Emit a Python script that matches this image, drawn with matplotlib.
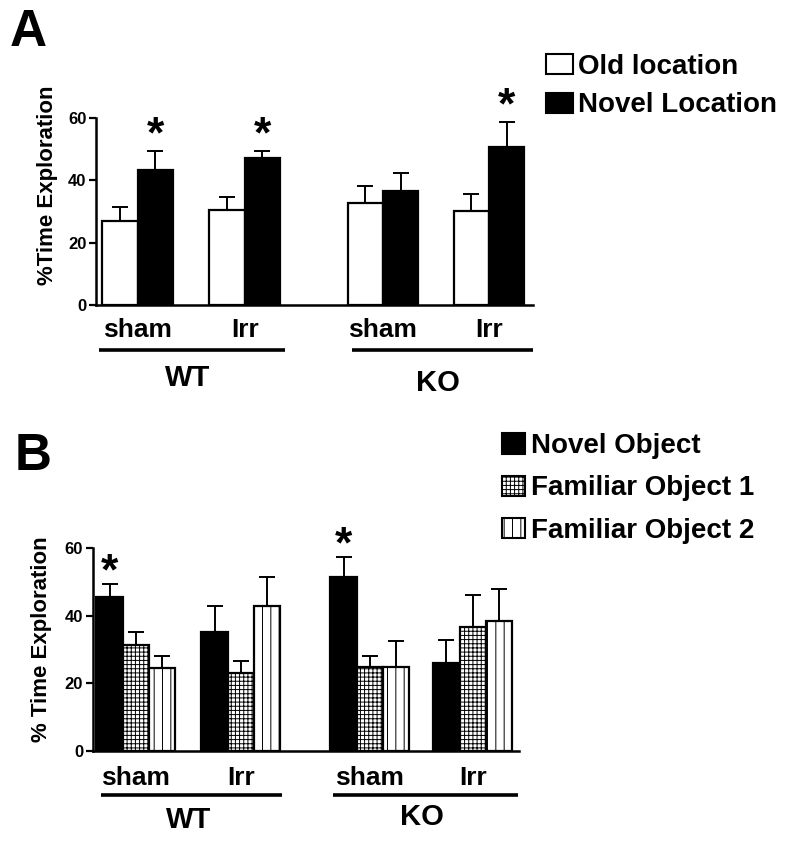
import numpy as np
import matplotlib.pyplot as plt
from matplotlib.patches import Patch
from matplotlib.transforms import blended_transform_factory

plt.rcParams['font.family'] = ['Liberation Sans', 'DejaVu Sans']
plt.rcParams['font.weight'] = 'bold'
plt.rcParams['axes.labelweight'] = 'bold'
plt.rcParams['hatch.linewidth'] = 0.7

groups = ["sham", "Irr", "sham", "Irr"]
genotypes = ["WT", "KO"]

# A: object location test
loc_labels = ["Old location", "Novel Location"]
loc_old = [27.0, 30.5, 32.7, 30.1]
loc_old_err = [4.4, 4.1, 5.5, 5.5]
loc_novel = [43.3, 47.1, 36.6, 50.8]
loc_novel_err = [6.1, 2.3, 5.7, 7.9]
loc_star = [True, True, False, True]  # star over novel bar

# B: novel object test
obj_labels = ["Novel Object", "Familiar Object 1", "Familiar Object 2"]
obj_novel = [45.5, 35.2, 51.4, 26.0]
obj_novel_err = [3.9, 7.7, 5.9, 6.8]
obj_fam1 = [31.3, 23.0, 24.8, 36.7]
obj_fam1_err = [3.9, 3.6, 3.3, 9.4]
obj_fam2 = [24.5, 42.9, 24.8, 38.4]
obj_fam2_err = [3.6, 8.5, 7.7, 9.5]
obj_star = [True, False, True, False]  # star over novel bar


def draw_panel(ax, centers, width, series, errs, styles, stars, star_idx,
               star_off):
    n = len(series)
    for i in range(n):
        x = centers + (i - (n - 1) / 2) * width
        fc, hatch = styles[i]
        ax.bar(x, series[i], width, color=fc, edgecolor='black',
               linewidth=1.6, hatch=hatch, zorder=2)
        ax.errorbar(x, series[i], yerr=[np.zeros(len(x)), errs[i]],
                    fmt='none', ecolor='black', elinewidth=1.4, capsize=6,
                    capthick=1.4, zorder=1)
    xs = centers + (star_idx - (n - 1) / 2) * width
    for k in range(len(stars)):
        if stars[k]:
            top = series[star_idx][k] + errs[star_idx][k]
            ax.text(xs[k], top + star_off, "*", ha='center', va='center',
                    fontsize=32, clip_on=False)
    ax.set_ylim(0, 60)
    ax.set_yticks([0, 20, 40, 60])
    ax.tick_params(axis='y', labelsize=12, width=1.6, length=5, pad=2)
    ax.set_xticks(centers)
    ax.set_xticklabels(groups, fontsize=19)
    ax.tick_params(axis='x', length=0)
    for s in ['top', 'right']:
        ax.spines[s].set_visible(False)
    for s in ['left', 'bottom']:
        ax.spines[s].set_linewidth(1.8)


fig = plt.figure(figsize=(8, 8.43), dpi=100)

# panel A
axA = fig.add_axes([0.12, 0.638, 0.546, 0.222])
cA = np.array([0, 1, 2.29, 3.28])
draw_panel(axA, cA, 0.33, [loc_old, loc_novel],
           [loc_old_err, loc_novel_err],
           [('white', None), ('black', None)], loc_star, 1, 5.0)
axA.set_xlim(-0.39, 3.69)
axA.tick_params(axis='x', pad=9)
axA.set_ylabel("%Time Exploration", fontsize=16)
axA.yaxis.set_label_coords(-0.087, 0.64)
trA = blended_transform_factory(axA.transData, axA.transAxes)
for (x0, x1), g in zip([(-0.36, 1.38), (2.0, 3.69)], genotypes):
    axA.plot([x0, x1], [-0.24, -0.24], color='black', lw=2.6,
             transform=trA, clip_on=False, solid_capstyle='butt')
axA.text(0.47, -0.39, "WT", transform=trA, ha='center', va='center',
         fontsize=21)
axA.text(2.8, -0.415, "KO", transform=trA, ha='center', va='center',
         fontsize=21)
fig.legend([Patch(facecolor='white', edgecolor='black', linewidth=1.5),
            Patch(facecolor='black', edgecolor='black', linewidth=1.5)],
           loc_labels, loc='upper left', bbox_to_anchor=(0.683, 0.936),
           frameon=False, fontsize=20, handlelength=0.95, handleheight=0.75,
           handletextpad=0.2, labelspacing=0.45, borderpad=0,
           borderaxespad=0)

# panel B
axB = fig.add_axes([0.116, 0.109, 0.5325, 0.241])
cB = np.array([0, 1, 2.23, 3.21])
draw_panel(axB, cB, 0.25, [obj_novel, obj_fam1, obj_fam2],
           [obj_novel_err, obj_fam1_err, obj_fam2_err],
           [('black', None), ('white', '++++'), ('white', '||')],
           obj_star, 0, 3.2)
axB.set_xlim(-0.41, 3.65)
axB.tick_params(axis='x', pad=11)
axB.set_ylabel("% Time Exploration", fontsize=16)
axB.yaxis.set_label_coords(-0.095, 0.55)
trB = blended_transform_factory(axB.transData, axB.transAxes)
for (x0, x1), g in zip([(-0.33, 1.39), (1.88, 3.64)], genotypes):
    axB.plot([x0, x1], [-0.217, -0.217], color='black', lw=2.6,
             transform=trB, clip_on=False, solid_capstyle='butt')
axB.text(0.5, -0.34, "WT", transform=trB, ha='center', va='center',
         fontsize=21)
axB.text(2.73, -0.325, "KO", transform=trB, ha='center', va='center',
         fontsize=21)
fig.legend([Patch(facecolor='black', edgecolor='black', linewidth=1.5),
            Patch(facecolor='white', edgecolor='black', linewidth=1.5,
                  hatch='++++'),
            Patch(facecolor='white', edgecolor='black', linewidth=1.5,
                  hatch='||')],
           obj_labels, loc='upper left', bbox_to_anchor=(0.627, 0.486),
           frameon=False, fontsize=20, handlelength=0.85, handleheight=0.75,
           handletextpad=0.2, labelspacing=0.58, borderpad=0,
           borderaxespad=0)

fig.text(0.012, 0.99, "A", fontsize=37, fontweight='heavy', va='top')
fig.text(0.018, 0.487, "B", fontsize=37, fontweight='heavy', va='top')

fig.savefig("out.png", dpi=100)
